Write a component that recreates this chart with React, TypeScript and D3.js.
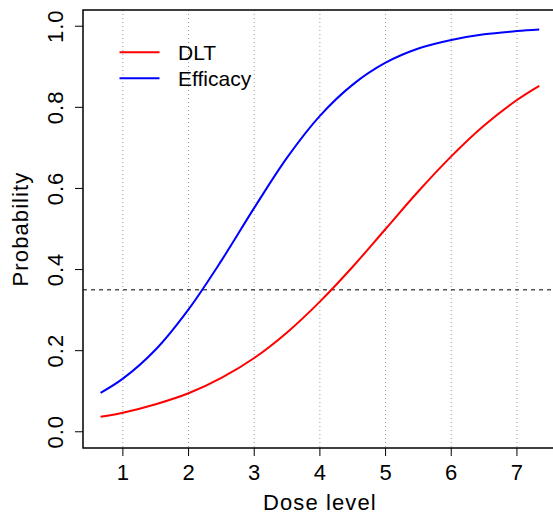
import React from 'react'
import * as d3 from 'd3'

// dose levels sampled along the fitted curves
const doses = [0.66, 1, 1.5, 2, 2.5, 3, 3.5, 4, 4.5, 5, 5.5, 6, 6.5, 7, 7.34]
const dlt = [0.037, 0.047, 0.068, 0.095, 0.133, 0.182, 0.245, 0.321, 0.407, 0.5, 0.593, 0.679, 0.755, 0.818, 0.853]
const efficacy = [0.096, 0.131, 0.203, 0.302, 0.422, 0.552, 0.676, 0.779, 0.856, 0.91, 0.945, 0.966, 0.98, 0.988, 0.992]

const xTicks = [1, 2, 3, 4, 5, 6, 7]
const yTicks = [0, 0.2, 0.4, 0.6, 0.8, 1.0]
const target = 0.35

const seriesNames = ['DLT', 'Efficacy']
const seriesColors = ['#ff0000', '#0000ff']

const W = 553, H = 515
const font = 'Liberation Sans, Arial, Helvetica, sans-serif'

export default function App() {
  const left = 83, top = 10, bottom = 448
  // R pads the data range by 4% on each side
  const xr = d3.extent(doses) as [number, number]
  const pad = (xr[1] - xr[0]) * 0.04
  const x = d3.scaleLinear().domain([xr[0] - pad, xr[1] + pad]).range([left, 556.8])
  const y = d3.scaleLinear().domain([-0.04, 1.04]).range([bottom, top])
  const right = x.range()[1]

  const line = (vals: number[]) =>
    d3.line<number>()
      .x((_, i) => x(doses[i]))
      .y(d => y(d))
      .curve(d3.curveCatmullRom)(vals) as string

  return (
    <svg width={W} height={H} style={{ position: 'absolute', left: 0, top: 0, background: '#fff' }}
      fontFamily={font}>
      {/* vertical grid */}
      {xTicks.map(t => (
        <line key={'g' + t} x1={x(t)} x2={x(t)} y1={top} y2={bottom}
          stroke="#9a9a9a" strokeWidth={1} strokeDasharray="1 3" />
      ))}
      {/* target line */}
      <line x1={left} x2={right} y1={y(target)} y2={y(target)}
        stroke="#000" strokeWidth={1} strokeDasharray="4 4" />

      <path d={line(dlt)} fill="none" stroke={seriesColors[0]} strokeWidth={2} />
      <path d={line(efficacy)} fill="none" stroke={seriesColors[1]} strokeWidth={2} />

      {/* box */}
      <rect x={left} y={top} width={right - left} height={bottom - top}
        fill="none" stroke="#000" strokeWidth={1.5} />

      {/* x axis */}
      {xTicks.map(t => (
        <g key={'x' + t}>
          <line x1={x(t)} x2={x(t)} y1={bottom} y2={bottom + 8} stroke="#000" />
          <text x={x(t)} y={480} textAnchor="middle" fontSize={22}>{t}</text>
        </g>
      ))}
      {/* y axis */}
      {yTicks.map(t => (
        <g key={'y' + t}>
          <line x1={left - 8} x2={left} y1={y(t)} y2={y(t)} stroke="#000" />
          <text transform={`translate(63,${y(t)}) rotate(-90)`} textAnchor="middle" fontSize={22}
            letterSpacing={1}>
            {t.toFixed(1)}
          </text>
        </g>
      ))}

      <text x={(left + right) / 2} y={510} textAnchor="middle" fontSize={22} letterSpacing={1.1}>Dose level</text>
      <text transform={`translate(28,${(top + bottom) / 2}) rotate(-90)`} textAnchor="middle" fontSize={22}
        letterSpacing={1.1}>
        Probability
      </text>

      {/* legend */}
      {seriesNames.map((n, i) => (
        <g key={n}>
          <line x1={119.5} x2={159.5} y1={52.3 + i * 26} y2={52.3 + i * 26}
            stroke={seriesColors[i]} strokeWidth={2} />
          <text x={178} y={60 + i * 26} fontSize={21}>{n}</text>
        </g>
      ))}
    </svg>
  )
}
